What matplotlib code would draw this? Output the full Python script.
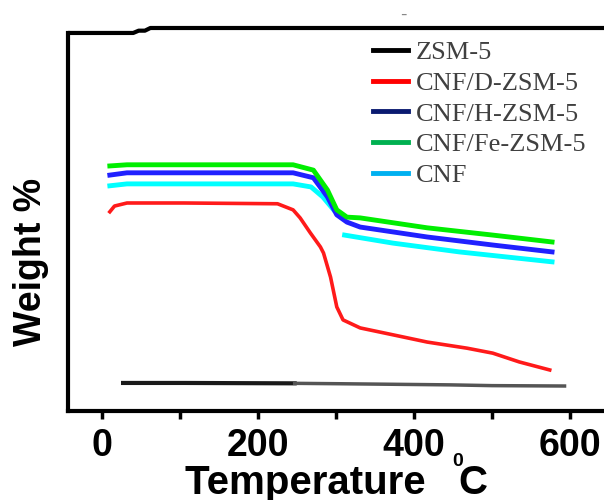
import numpy as np
import matplotlib.pyplot as plt
from matplotlib.lines import Line2D

# TGA curves (temperature in C, weight in arbitrary %)
t_zsm = [27, 105, 247, 303, 446, 500, 593]
w_zsm = [9.7, 9.7, 9.6, 9.5, 9.2, 9.0, 8.9]

t_d = [10, 16, 32, 105, 225, 245, 254, 267, 280, 284, 293, 301, 309, 331, 373, 417, 468, 501, 535, 574]
w_d = [54.5, 56.0, 56.8, 56.8, 56.6, 55.0, 52.9, 49.0, 45.3, 43.7, 37.4, 29.6, 26.2, 24.1, 22.3, 20.4, 18.8, 17.5, 15.2, 13.1]

t_h = [10, 32, 105, 204, 245, 271, 289, 301, 314, 331, 417, 501, 577]
w_h = [64.1, 64.7, 64.7, 64.7, 64.7, 63.4, 58.4, 53.7, 51.8, 50.5, 47.9, 45.8, 44.0]

t_fe = [10, 32, 105, 204, 245, 271, 289, 301, 314, 331, 417, 501, 577]
w_fe = [66.5, 66.8, 66.8, 66.8, 66.8, 65.4, 60.2, 55.0, 53.1, 52.9, 50.3, 48.4, 46.6]

t_cnf = [10, 32, 105, 204, 245, 268, 283, 297, 303, 311, 373, 458, 577]
w_cnf = [61.3, 61.8, 61.8, 61.8, 61.8, 61.0, 58.4, 55.0, np.nan, 48.4, 46.3, 44.0, 41.4]

labels = ['ZSM-5', 'CNF/D-ZSM-5', 'CNF/H-ZSM-5', 'CNF/Fe-ZSM-5', 'CNF']
legend_colors = ['#000000', '#ff0000', '#0a1a70', '#00b050', '#00b0f0']

plt.rcParams['font.family'] = ['Liberation Sans', 'DejaVu Sans']

fig = plt.figure(figsize=(6.04, 5.0), dpi=100)
ax = fig.add_axes([0.1126, 0.178, 0.8874, 0.766])

ax.plot(t_zsm[:3], w_zsm[:3], color='#1a1a1a', lw=3)
ax.plot(t_zsm[2:], w_zsm[2:], color='#555555', lw=2.5)
ax.plot(t_cnf, w_cnf, color='#00ffff', lw=3.5)
ax.plot(t_h, w_h, color='#2020ff', lw=3.5)
ax.plot(t_fe, w_fe, color='#00ee00', lw=3.5)
ax.plot(t_d, w_d, color='#ff1a1a', lw=2.6)

ax.set_xlim(-43.6, 643.6)
ax.set_ylim(2.36, 102.6)

# frame: thick left/bottom, stepped top line, nothing on the right
ax.spines['right'].set_visible(False)
ax.spines['top'].set_visible(False)
for s in ['left', 'bottom']:
    ax.spines[s].set_linewidth(3)
ax.spines['left'].set_bounds(2.36, 101.3)
ax.plot([-43.6, 40, 47, 55, 62, 643.6], [101.3, 101.3, 101.9, 101.9, 102.6, 102.6],
        color='black', lw=3, clip_on=False, solid_capstyle='butt')

ax.set_xticks([0, 200, 400, 600])
ax.set_xticks([100, 300, 500], minor=True)
ax.set_yticks([])
ax.tick_params(axis='x', which='both', direction='out', length=6, width=2.5)
ax.tick_params(axis='x', which='major', labelsize=27, pad=6)
for lb in ax.get_xticklabels():
    lb.set_fontweight('bold')

ax.set_xlabel('Temperature   C', fontsize=29, fontweight='bold', labelpad=0)
fig.text(0.758, 0.078, '0', fontsize=14, fontweight='bold', ha='center', va='center')
ax.set_ylabel('Weight %', fontsize=27, fontweight='bold')
ax.yaxis.set_label_coords(-0.036, 0.39)

fig.text(0.668, 0.97, '-', fontsize=14, color='#888888', ha='center', va='center')

handles = [Line2D([], [], color=c, lw=3.5) for c in legend_colors]
leg = ax.legend(handles, labels, loc='upper left', bbox_to_anchor=(0.618, 0.918),
                bbox_transform=fig.transFigure, frameon=False,
                prop={'family': 'Liberation Serif', 'size': 19},
                handlelength=1.3, handletextpad=0.3, labelspacing=0.27,
                borderpad=0, borderaxespad=0)
for txt in leg.get_texts():
    txt.set_color('#404040')

fig.savefig('out.png', dpi=100)
